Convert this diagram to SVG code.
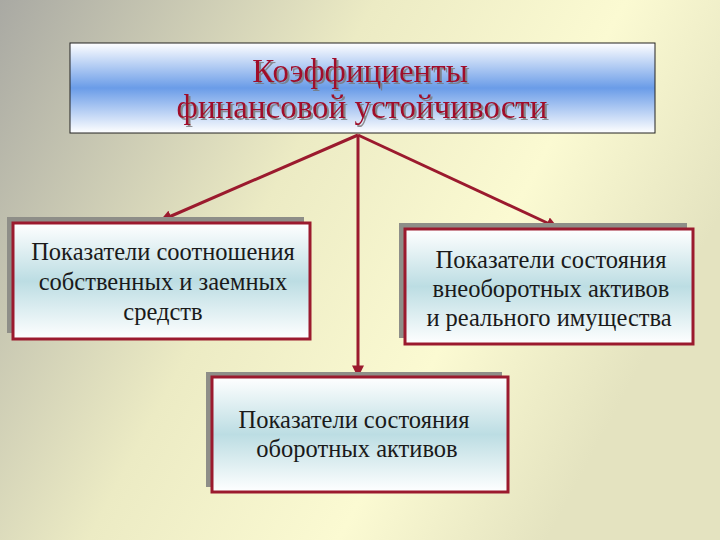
<svg xmlns="http://www.w3.org/2000/svg" width="720" height="540" viewBox="0 0 720 540">
<defs>
<linearGradient id="bg" x1="0" y1="0" x2="1" y2="0.4">
<stop offset="0" stop-color="#a9a9a3"/><stop offset="0.45" stop-color="#ecebc4"/><stop offset="0.75" stop-color="#fbfad2"/><stop offset="1" stop-color="#e4e3c0"/>
</linearGradient>
<linearGradient id="tg" x1="0" y1="0" x2="0" y2="1">
<stop offset="0" stop-color="#ffffff"/><stop offset="0.5" stop-color="#6a9ce8"/><stop offset="1" stop-color="#ffffff"/>
</linearGradient>
<linearGradient id="bx" x1="0" y1="0" x2="0" y2="1">
<stop offset="0" stop-color="#ffffff"/><stop offset="0.5" stop-color="#bcdde3"/><stop offset="1" stop-color="#ffffff"/>
</linearGradient>
<filter id="ds" x="-10%" y="-20%" width="120%" height="150%"><feDropShadow dx="2" dy="2" stdDeviation="0.5" flood-color="#777" flood-opacity="0.8"/></filter>
<marker id="ah" viewBox="0 0 10 10" refX="8" refY="5" markerWidth="4" markerHeight="4" orient="auto"><path d="M0,0L10,5L0,10z" fill="#9b1a2e"/></marker>
<style>
.sh{fill:#8e8e88}
.box{fill:url(#bx);stroke:#9b1a2e;stroke-width:3}
.t{font-family:"Liberation Serif",serif;font-size:24.5px;fill:#1a1a1a;text-anchor:middle}
.h{font-family:"Liberation Serif",serif;font-size:33px;fill:#a0102c;text-anchor:middle;filter:url(#ds)}
.c{stroke:#9b1a2e;stroke-width:3;fill:none;marker-end:url(#ah)}
</style>
</defs>
<rect width="720" height="540" fill="url(#bg)"/>
<g id="title">
<rect x="70" y="43" width="585" height="90" fill="url(#tg)" stroke="#222" stroke-width="1"/>
<text class="h" x="360" y="82">Коэффициенты</text>
<text class="h" x="362" y="118">финансовой устойчивости</text>
</g>
<g id="connectors">
<line class="c" x1="358" y1="135" x2="162" y2="220"/>
<line class="c" x1="358" y1="135" x2="556" y2="227"/>
<line class="c" x1="358" y1="135" x2="358" y2="375"/>
</g>
<g id="left">
<rect class="sh" x="7" y="217" width="297" height="116"/>
<rect class="box" x="13" y="223" width="297" height="116"/>
<text class="t" x="163" y="260">Показатели соотношения</text>
<text class="t" x="163" y="290">собственных и заемных</text>
<text class="t" x="163" y="320">средств</text>
</g>
<g id="right">
<rect class="sh" x="399" y="223" width="288" height="115"/>
<rect class="box" x="405" y="229" width="288" height="115"/>
<text class="t" x="551" y="268">Показатели состояния</text>
<text class="t" x="551" y="297">внеоборотных активов</text>
<text class="t" x="549" y="326">и реального имущества</text>
</g>
<g id="bottom">
<rect class="sh" x="206" y="372" width="296" height="115"/>
<rect class="box" x="212" y="377" width="296" height="115"/>
<text class="t" x="354" y="428">Показатели состояния</text>
<text class="t" x="357" y="457">оборотных активов</text>
</g>
</svg>
